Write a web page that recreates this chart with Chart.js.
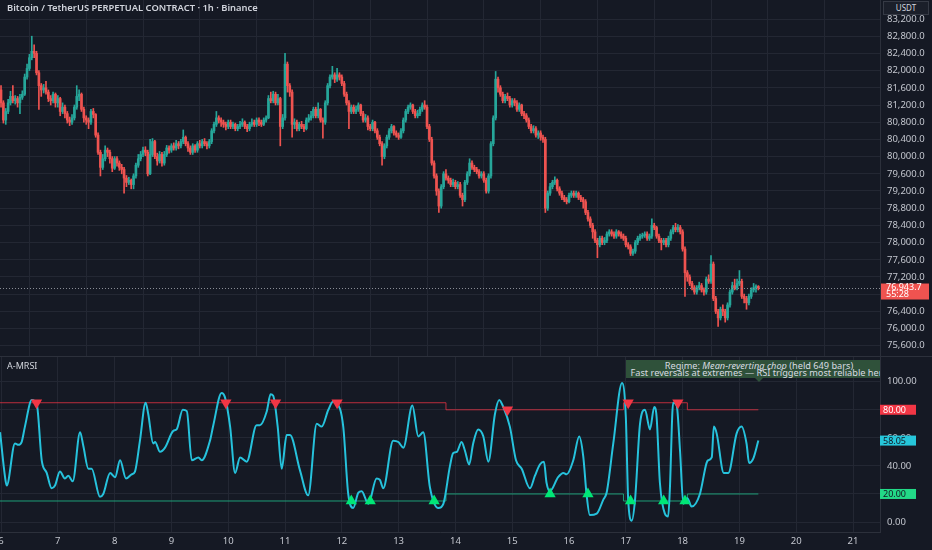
<!DOCTYPE html>
<html>
<head>
<meta charset="utf-8">
<script src="https://cdn.jsdelivr.net/npm/chart.js@4.4.1/dist/chart.umd.min.js"></script>
<style>
  html, body { margin: 0; padding: 0; background: #151924; }
  #wrap { position: relative; width: 932px; height: 550px; overflow: hidden; background: #151924; font-family: 'Noto Sans', sans-serif; }
  #priceCanvas { position: absolute; left: 0; top: 0; }
  #rsiCanvas { position: absolute; left: 0; top: 357px; }
  .sep { position: absolute; left: 0; top: 356px; width: 932px; height: 1px; background: #2c303b; }
  #title { position: absolute; left: 7px; top: 1px; font-size: 9.4px; font-weight: 600; color: #d1d4dc; white-space: nowrap; }
  #paneName { position: absolute; left: 7px; top: 359px; font-size: 9px; color: #d1d4dc; }
  #currency { position: absolute; left: 883px; top: 1px; width: 44px; height: 12px; border: 1px solid #363a45; background: #1b1f2a; color: #d1d4dc; font-size: 8px; line-height: 12px; text-align: center; }
  #regime { position: absolute; left: 626px; top: 360px; width: 254px; height: 18px; background: #2f513a; overflow: hidden; }
  #regime div { position: absolute; left: 133px; top: 1.5px; transform: translateX(-50%); white-space: nowrap; text-align: center; color: #d8dbe2; font-size: 9.2px; line-height: 7.5px; }
  #regimeTip { position: absolute; left: 755px; top: 378px; width: 0; height: 0; border-left: 4px solid transparent; border-right: 4px solid transparent; border-top: 4px solid #2f513a; }
</style>
</head>
<body>
<div id="wrap">
  <canvas id="priceCanvas" width="932" height="356"></canvas>
  <div class="sep"></div>
  <canvas id="rsiCanvas" width="932" height="193"></canvas>
  <div id="title">Bitcoin / TetherUS PERPETUAL CONTRACT · 1h · Binance</div>
  <div id="paneName">A-MRSI</div>
  <div id="currency">USDT</div>
  <div id="regime"><div>Regime: <i>Mean-reverting chop</i> (held 649 bars)<br>Fast reversals at extremes — RSI triggers most reliable here</div></div>
  <div id="regimeTip"></div>
</div>
<script>
// hourly candles, bar 0 = day 6 00:00
const firstOpen = 81550;
const closes = [
  81250, 80850, 81050, 81250, 81400, 81300, 81350, 81250, 81380, 81450, 81850, 82050, 82300, 82450, 82400, 81950, 81650, 81550, 81600, 81500, 81350, 81300, 81450, 81250,
  81350, 81050, 81150, 81000, 80850, 80800, 80900, 81150, 81400, 81450, 81100, 80900, 80850, 80800, 81050, 80980, 80500, 80100, 79750, 79950, 80150, 80100, 79950, 79730,
  79950, 79850, 79750, 79700, 79500, 79400, 79450, 79350, 79550, 79800, 79950, 80050, 80150, 80100, 79600, 80050, 80350, 80000, 79900, 80050, 79850, 80050, 80200, 80150,
  80250, 80200, 80300, 80250, 80350, 80450, 80300, 80200, 80100, 80250, 80150, 80300, 80250, 80350, 80300, 80250, 80350, 80600, 80750, 80900, 80850, 80800, 80750, 80700,
  80800, 80700, 80750, 80650, 80700, 80750, 80800, 80700, 80650, 80750, 80800, 80750, 80850, 80800, 80750, 80850, 80900, 81350, 81300, 81450, 81250, 81350, 80700, 80900,
  82150, 81650, 81500, 80750, 80800, 80650, 80750, 80700, 80650, 80850, 80900, 80950, 81100, 80950, 81100, 80850, 80800, 81250, 81650, 81850, 81900, 81800, 81900, 81850,
  81700, 81450, 81250, 81050, 81150, 81050, 81100, 81200, 81000, 80850, 80900, 80700, 80650, 80800, 80600, 80450, 80300, 80000, 80250, 80450, 80600, 80700, 80550, 80500,
  80450, 80600, 80850, 81050, 81150, 81200, 81050, 80950, 81000, 81100, 81200, 81150, 80700, 80400, 79850, 79550, 79200, 78850, 79300, 79600, 79500, 79450, 79350, 79400,
  79300, 79350, 79100, 79000, 79400, 79600, 79850, 79750, 79700, 79650, 79550, 79600, 79450, 79200, 79550, 80300, 80900, 81800, 81600, 81450, 81300, 81400, 81350, 81200,
  81300, 81250, 81100, 81200, 81000, 80950, 80850, 80700, 80600, 80650, 80500, 80550, 80450, 80400, 78800, 79150, 79300, 79400, 79450, 79250, 79150, 79050, 79000, 78950,
  79100, 79150, 79100, 79150, 79050, 79000, 78950, 78700, 78550, 78400, 78250, 78050, 77950, 78100, 78000, 78050, 78200, 78250, 78200, 78150, 78250, 78200, 78150, 78100,
  77950, 77900, 77750, 77800, 78000, 78100, 78150, 78170, 78200, 78100, 78150, 78400, 78350, 78150, 78050, 78000, 78050, 77950, 78100, 78250, 78350, 78300, 78350, 78250,
  77850, 77300, 77200, 77050, 76950, 76850, 76950, 77000, 76900, 76850, 77150, 77100, 77500, 76700, 76400, 76250, 76450, 76400, 76250, 76550, 76850, 77000, 76950, 77050,
  77100, 76750, 76700, 76600, 76750, 76900, 76950, 76980, 76943.7
];
const highs = [
  81650, 81300, 81120, 81330, 81520, 81650, 81420, 81400, 81450, 81530, 81920, 82150, 82380, 82800, 82600, 82450, 82000, 81700, 81680, 81750, 81550, 81420, 81500, 81480,
  81420, 81380, 81250, 81200, 81050, 80920, 80980, 81200, 81650, 81550, 81480, 81150, 80950, 80900, 81100, 81120, 81000, 80550, 80150, 80050, 80250, 80200, 80150, 80000,
  80000, 80000, 79900, 79820, 79750, 79560, 79520, 79480, 79600, 79850, 80050, 80120, 80220, 80230, 80150, 80400, 80420, 80380, 80080, 80120, 80100, 80120, 80260, 80250,
  80300, 80320, 80380, 80350, 80400, 80620, 80480, 80350, 80250, 80300, 80280, 80350, 80380, 80400, 80420, 80350, 80400, 80650, 80800, 81050, 80950, 80900, 80850, 80800,
  80850, 80850, 80800, 80780, 80750, 80820, 80880, 80830, 80750, 80800, 80880, 80850, 80900, 80900, 80850, 80900, 80950, 81420, 81500, 81520, 81500, 81450, 81380, 80980,
  82400, 82200, 81700, 81550, 80880, 80850, 80800, 80820, 80750, 80900, 80980, 81050, 81150, 81150, 81250, 81120, 80900, 81300, 81700, 81900, 82100, 81950, 82050, 81950,
  81900, 81750, 81500, 81300, 81200, 81200, 81180, 81250, 81220, 81050, 80980, 80950, 80750, 80850, 80820, 80650, 80500, 80350, 80300, 80500, 80650, 80750, 80720, 80600,
  80550, 80650, 80900, 81100, 81200, 81250, 81220, 81100, 81080, 81150, 81250, 81300, 81200, 80750, 80450, 79900, 79600, 79250, 79350, 79650, 79700, 79550, 79500, 79480,
  79450, 79420, 79400, 79150, 79450, 79650, 79950, 79900, 79800, 79750, 79700, 79650, 79650, 79500, 79600, 80350, 80950, 81980, 81850, 81650, 81500, 81450, 81480, 81400,
  81350, 81350, 81300, 81250, 81220, 81050, 81000, 80900, 80750, 80720, 80700, 80600, 80600, 80500, 80450, 79200, 79380, 79450, 79530, 79480, 79300, 79200, 79100, 79050,
  79150, 79200, 79200, 79200, 79180, 79100, 79050, 79000, 78750, 78600, 78450, 78300, 78100, 78150, 78150, 78120, 78250, 78300, 78300, 78250, 78300, 78280, 78250, 78200,
  78150, 78000, 77950, 77850, 78050, 78150, 78200, 78220, 78250, 78250, 78200, 78550, 78450, 78380, 78200, 78100, 78100, 78100, 78150, 78300, 78400, 78450, 78420, 78400,
  78300, 77900, 77350, 77250, 77100, 77000, 77000, 77080, 77050, 76950, 77200, 77250, 77700, 77550, 76750, 76450, 76500, 76550, 76450, 76600, 76900, 77080, 77150, 77150,
  77350, 77150, 76800, 76750, 76800, 76950, 77050, 77020, 77000
];
const lows = [
  81150, 80780, 80750, 81000, 81200, 81250, 81220, 81150, 81000, 81330, 81420, 81800, 82000, 82250, 82300, 81900, 81100, 81400, 81480, 81450, 81280, 81200, 81250, 81150,
  81150, 80950, 81000, 80900, 80780, 80720, 80750, 80850, 81100, 81300, 81050, 80800, 80750, 80650, 80750, 80900, 80450, 80050, 79550, 79700, 79900, 80000, 79850, 79650,
  79700, 79780, 79680, 79600, 79150, 79300, 79350, 79250, 79250, 79500, 79750, 79900, 80000, 80020, 79550, 79580, 80000, 79950, 79800, 79850, 79780, 79800, 80000, 80080,
  80100, 80150, 80150, 80180, 80200, 80300, 80250, 80120, 80050, 80050, 80100, 80100, 80200, 80200, 80250, 80180, 80200, 80300, 80550, 80700, 80780, 80700, 80680, 80620,
  80650, 80650, 80650, 80600, 80600, 80650, 80700, 80650, 80580, 80600, 80700, 80700, 80700, 80720, 80700, 80720, 80800, 80880, 81250, 81250, 81200, 81200, 80250, 80650,
  80850, 81500, 81400, 80450, 80650, 80600, 80600, 80650, 80580, 80620, 80800, 80850, 80900, 80900, 80900, 80800, 80430, 80750, 81200, 81600, 81800, 81720, 81750, 81780,
  81650, 81400, 81200, 80650, 81000, 81000, 81000, 81050, 80950, 80800, 80800, 80620, 80600, 80600, 80550, 80400, 80250, 79800, 79950, 80200, 80400, 80550, 80500, 80450,
  80400, 80420, 80550, 80800, 81000, 81100, 81000, 80900, 80900, 80950, 81050, 81100, 80650, 80350, 79800, 79500, 79100, 78700, 78800, 79250, 79450, 79380, 79300, 79300,
  79250, 79250, 79050, 78850, 78950, 79350, 79550, 79700, 79650, 79600, 79500, 79500, 79400, 79150, 79150, 79500, 80250, 80850, 81500, 81400, 81250, 81250, 81300, 81150,
  81150, 81180, 81050, 81050, 80950, 80880, 80800, 80650, 80550, 80550, 80450, 80420, 80380, 80330, 78700, 78750, 79100, 79250, 79350, 79200, 79100, 79000, 78950, 78900,
  78920, 79050, 79050, 79050, 79000, 78950, 78800, 78650, 78500, 78350, 78100, 78000, 77650, 77900, 77950, 77950, 78000, 78150, 78150, 78100, 78100, 78150, 78100, 78050,
  77900, 77850, 77700, 77700, 77750, 77950, 78050, 78100, 78120, 78050, 78050, 78100, 78300, 78100, 78000, 77830, 77950, 77900, 77900, 78050, 78200, 78250, 78250, 78200,
  77800, 76750, 77100, 77000, 76900, 76800, 76800, 76900, 76850, 76780, 76800, 77050, 77050, 76650, 76350, 76050, 76200, 76300, 76150, 76200, 76500, 76800, 76900, 76900,
  77000, 76700, 76600, 76450, 76550, 76700, 76850, 76850, 76900
];

const priceTicks = [75600, 76000, 76400, 76800, 77200, 77600, 78000, 78400, 78800, 79200, 79600, 80000, 80400, 80800, 81200, 81600, 82000, 82400, 82800, 83200];
const dayTicks = [6, 7, 8, 9, 10, 11, 12, 13, 14, 15, 16, 17, 18, 19, 20, 21];
const rsiTicks = [0, 20, 40, 60, 80, 100];

// A-MRSI line, positions in bars
const rsiBars = [
  -0.4, 1.7, 2.4, 5.9, 7.3, 8.7, 10.1, 13.0, 15.1, 17.2,
  19.3, 21.4, 22.8, 24.9, 27.0, 28.4, 30.3, 33.4, 34.8, 36.9,
  38.3, 41.8, 43.2, 46.1, 48.2, 50.3, 52.8, 55.2, 56.6, 58.7,
  61.1, 62.2, 64.3, 65.1, 67.2, 69.3, 72.8, 74.2, 76.8, 78.5,
  80.6, 83.4, 84.8, 88.3, 89.7, 93.2, 94.6, 96.8, 98.9, 101.0,
  103.8, 108.0, 109.4, 112.3, 113.9, 115.0, 116.9, 118.6, 120.7, 122.1,
  126.3, 129.8, 133.4, 135.5, 138.3, 140.4, 141.8, 144.6, 146.7, 148.8,
  151.0, 152.4, 155.2, 158.7, 160.1, 161.5, 165.7, 167.9, 170.0, 173.8,
  176.3, 178.4, 181.2, 184.8, 186.9, 189.7, 191.0, 192.6, 194.6, 196.0,
  197.8, 199.5, 201.6, 203.8, 205.9, 208.7, 210.5, 212.2, 215.0, 217.6,
  220.0, 223.5, 225.6, 227.7, 229.4, 230.5, 231.9, 235.4, 237.6, 239.0,
  241.8, 244.3, 246.0, 247.4, 248.8, 251.7, 254.5, 255.9, 258.7, 262.4,
  264.0, 265.0, 266.5, 267.9, 270.0, 272.1, 274.2, 276.0, 277.0, 278.4,
  280.5, 281.9, 282.6, 284.0, 285.5, 286.9, 288.3, 290.0, 291.8, 295.3,
  298.1, 298.8, 300.3, 301.2, 302.4, 305.4, 307.3, 310.8, 312.9, 315.0,
  316.1, 317.8, 320
];
const rsiValues = [
  64, 32, 26, 56, 55, 57, 68, 87, 84, 44,
  35, 24, 26, 36, 31, 33, 29, 64, 54, 38,
  38, 18, 20, 35, 32, 44, 31, 34, 36, 58,
  85, 77, 56, 57, 50, 53, 65, 66, 80, 79,
  44, 46, 44, 58, 69, 92, 89, 68, 35, 46,
  43, 69, 69, 79, 91, 90, 68, 38, 62, 62,
  37, 19, 70, 68, 80, 86, 85, 68, 20, 10,
  21, 22, 13, 31, 30, 24, 58, 57, 53, 83,
  61, 64, 25, 10, 13, 40, 49, 50, 57, 51,
  41, 56, 66, 61, 43, 77, 87, 82, 68, 44,
  38, 24, 33, 41, 43, 28, 22, 32, 35, 34,
  44, 61, 47, 20, 5, 6, 16, 21, 56, 99,
  75, 16, 1, 16, 70, 80, 66, 82, 75, 28,
  6, 4, 23, 85, 83, 51, 13, 17, 11, 20,
  42, 44, 46, 68, 63, 35, 35, 63, 68, 56,
  42, 45, 58.05
];

// adaptive thresholds (step changes)
const levelBars = [-1, 188, 263, 290, 320];
const upperLevels = [85, 80, 85, 80, 80];
const lowerLevels = [15, 20, 15, 20, 20];

// signals
const sellBars = [15, 95, 116, 142, 214, 265, 286];
const sellLevels = [85, 85, 85, 85, 80, 85, 85];
const buyBars = [148, 156, 183, 232, 248, 266, 280, 289];
const buyLevels = [15, 15, 15, 20, 20, 15, 15, 15];

const countdown = '55:28';

const UP = '#26a69a';
const DOWN = '#ef5350';
const GRID = '#232733';
const TEXT = '#c3c6ce';
const AXIS_W = 52;
const xMin = 5.982;
const xMax = 21.475;

Chart.defaults.font.family = "'Noto Sans', sans-serif";
Chart.defaults.font.size = 9.5;
Chart.defaults.color = TEXT;

const barDay = b => 6 + b / 24;
const opens = closes.map((c, i) => (i === 0 ? firstOpen : closes[i - 1]));
const colors = closes.map((c, i) => (c >= opens[i] ? UP : DOWN));
const lastClose = closes[closes.length - 1];
const lastRsi = rsiValues[rsiValues.length - 1];

const fmtPrice = v => v.toLocaleString('en-US', { minimumFractionDigits: 1, maximumFractionDigits: 1 });

// keep the plot area flush with the canvas edges
function fitY(axis) {
  axis.width = AXIS_W;
  axis.paddingTop = 0;
  axis.paddingBottom = 0;
}
function fitX(height) {
  return axis => {
    axis.height = height;
    axis.paddingLeft = 0;
    axis.paddingRight = 0;
  };
}

const lastPriceTag = {
  id: 'lastPriceTag',
  afterDatasetsDraw(chart) {
    const { ctx, chartArea } = chart;
    const y = Math.round(chart.scales.y.getPixelForValue(lastClose)) + 0.5;
    ctx.save();
    ctx.strokeStyle = '#8a8d96';
    ctx.setLineDash([1, 2]);
    ctx.lineWidth = 1;
    ctx.beginPath();
    ctx.moveTo(chartArea.left, y);
    ctx.lineTo(chartArea.right, y);
    ctx.stroke();
    ctx.restore();
  },
  afterDraw(chart) {
    const { ctx, chartArea } = chart;
    const y = chart.scales.y.getPixelForValue(lastClose);
    ctx.save();
    ctx.fillStyle = DOWN;
    ctx.fillRect(chartArea.right + 1, y - 4.5, 48, 16);
    ctx.fillStyle = '#ffffff';
    ctx.font = "9px 'Noto Sans', sans-serif";
    ctx.textBaseline = 'middle';
    ctx.fillText(fmtPrice(lastClose), chartArea.right + 6, y - 0.5);
    ctx.fillText(countdown, chartArea.right + 6, y + 6.5);
    ctx.restore();
  }
};

const rsiTags = {
  id: 'rsiTags',
  afterDraw(chart) {
    const { ctx, chartArea } = chart;
    const ys = chart.scales.y;
    const tags = [
      { v: upperLevels[upperLevels.length - 1], bg: '#f23645', fg: '#ffffff' },
      { v: lowerLevels[lowerLevels.length - 1], bg: '#22d987', fg: '#131722' },
      { v: lastRsi, bg: '#26c6da', fg: '#131722' }
    ];
    ctx.save();
    ctx.font = "9px 'Noto Sans', sans-serif";
    ctx.textBaseline = 'middle';
    tags.forEach(t => {
      const y = ys.getPixelForValue(t.v);
      ctx.fillStyle = t.bg;
      ctx.fillRect(chartArea.right, y - 5, 36, 10);
      ctx.fillStyle = t.fg;
      ctx.fillText(t.v.toFixed(2), chartArea.right + 3, y + 0.5);
    });
    ctx.restore();
  }
};

new Chart(document.getElementById('priceCanvas'), {
  type: 'bar',
  data: {
    datasets: [
      {
        label: 'wicks',
        data: closes.map((c, i) => ({ x: barDay(i), y: [lows[i], highs[i]] })),
        backgroundColor: colors,
        barThickness: 1,
        grouped: false,
        order: 2
      },
      {
        label: 'bodies',
        data: closes.map((c, i) => ({ x: barDay(i), y: [opens[i], c] })),
        backgroundColor: colors,
        barThickness: 2,
        minBarLength: 1,
        grouped: false,
        order: 1
      }
    ]
  },
  options: {
    responsive: false,
    animation: false,
    events: [],
    layout: { padding: 0, autoPadding: false },
    plugins: { legend: { display: false }, tooltip: { enabled: false } },
    scales: {
      x: {
        type: 'linear',
        min: xMin,
        max: xMax,
        offset: false,
        afterBuildTicks: axis => { axis.ticks = dayTicks.map(v => ({ value: v })); },
        afterFit: fitX(0),
        ticks: { display: false },
        grid: { color: GRID, drawTicks: false },
        border: { display: false }
      },
      y: {
        position: 'right',
        min: 75362.7,
        max: 83641.9,
        afterBuildTicks: axis => { axis.ticks = priceTicks.map(v => ({ value: v })); },
        afterFit: fitY,
        ticks: { padding: 7, callback: v => fmtPrice(v) },
        grid: { color: GRID, drawTicks: false },
        border: { display: true, color: '#2c303b' }
      }
    }
  },
  plugins: [lastPriceTag]
});

new Chart(document.getElementById('rsiCanvas'), {
  type: 'line',
  data: {
    datasets: [
      {
        label: 'sell',
        data: sellBars.map((b, i) => ({ x: barDay(b), y: sellLevels[i] })),
        showLine: false,
        pointStyle: 'triangle',
        pointRotation: 180,
        pointRadius: 6.5,
        pointBackgroundColor: '#f23645',
        pointBorderWidth: 0,
        order: 0
      },
      {
        label: 'buy',
        data: buyBars.map((b, i) => ({ x: barDay(b), y: buyLevels[i] })),
        showLine: false,
        pointStyle: 'triangle',
        pointRadius: 6.5,
        pointBackgroundColor: '#00e676',
        pointBorderWidth: 0,
        order: 0
      },
      {
        label: 'A-MRSI',
        data: rsiBars.map((b, i) => ({ x: barDay(b), y: rsiValues[i] })),
        borderColor: '#26c2dc',
        borderWidth: 2,
        pointRadius: 0,
        cubicInterpolationMode: 'monotone',
        order: 1
      },
      {
        label: 'upper',
        data: levelBars.map((b, i) => ({ x: barDay(b), y: upperLevels[i] })),
        borderColor: 'rgba(242,54,69,0.75)',
        borderWidth: 1,
        pointRadius: 0,
        stepped: 'before',
        order: 2
      },
      {
        label: 'lower',
        data: levelBars.map((b, i) => ({ x: barDay(b), y: lowerLevels[i] })),
        borderColor: '#1e9e78',
        borderWidth: 1,
        pointRadius: 0,
        stepped: 'before',
        order: 2
      }
    ]
  },
  options: {
    responsive: false,
    animation: false,
    events: [],
    layout: { padding: 0, autoPadding: false },
    plugins: { legend: { display: false }, tooltip: { enabled: false } },
    scales: {
      x: {
        type: 'linear',
        min: xMin,
        max: xMax,
        offset: false,
        afterBuildTicks: axis => { axis.ticks = dayTicks.map(v => ({ value: v })); },
        afterFit: fitX(18),
        ticks: { padding: 4, autoSkip: false, maxRotation: 0, callback: v => String(v) },
        grid: { color: GRID, drawTicks: false },
        border: { display: true, color: '#2c303b' }
      },
      y: {
        position: 'right',
        min: -7.1,
        max: 117.6,
        afterBuildTicks: axis => { axis.ticks = rsiTicks.map(v => ({ value: v })); },
        afterFit: fitY,
        ticks: { padding: 7, callback: v => v.toFixed(2) },
        grid: { color: GRID, drawTicks: false },
        border: { display: true, color: '#2c303b' }
      }
    }
  },
  plugins: [rsiTags]
});
</script>
</body>
</html>
